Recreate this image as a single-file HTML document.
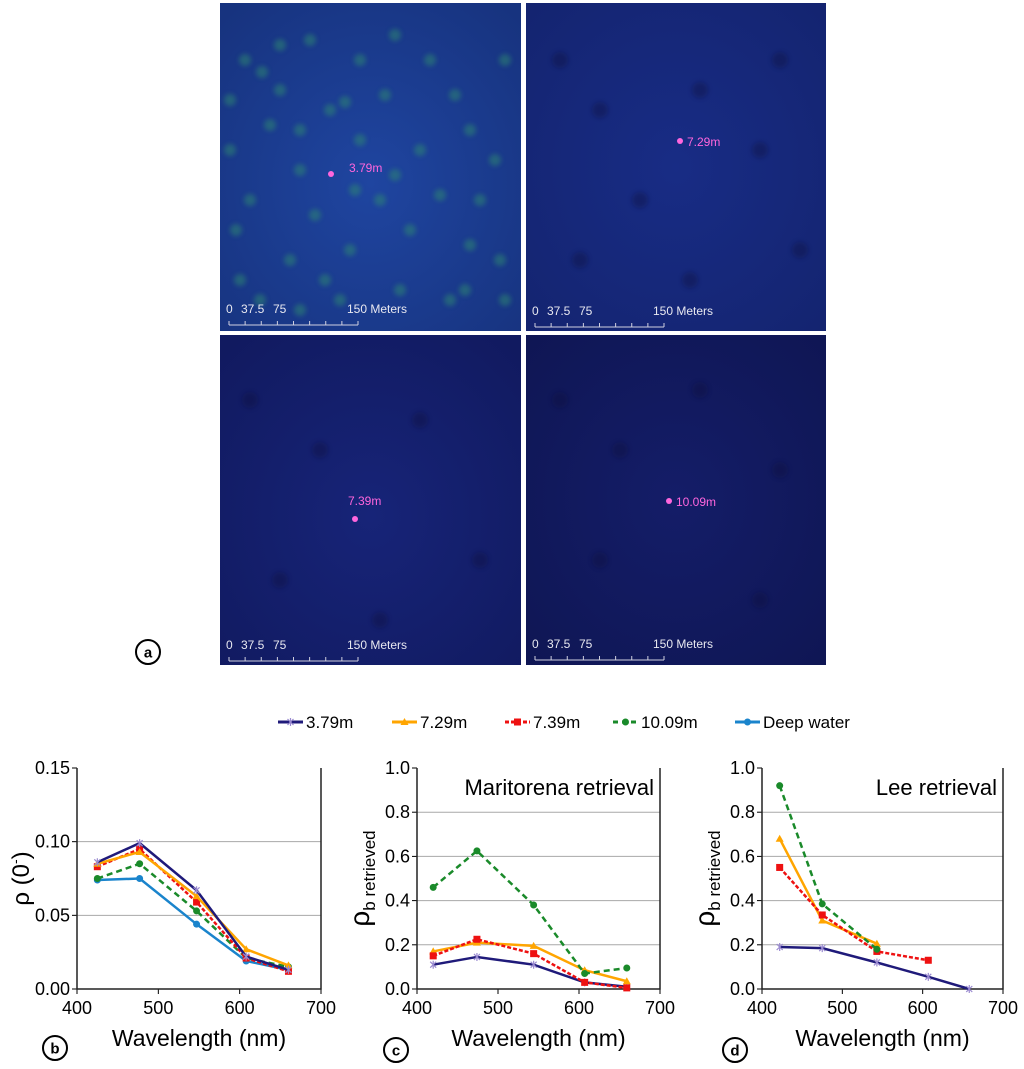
<!DOCTYPE html>
<html><head><meta charset="utf-8"><style>
body{margin:0;background:#fff;width:1024px;height:1069px;overflow:hidden;font-family:"Liberation Sans",sans-serif}
svg{display:block}
</style></head><body>
<svg id="root" width="1024" height="1069" viewBox="0 0 1024 1069" xmlns="http://www.w3.org/2000/svg">
<defs>
<radialGradient id="g1" cx="50%" cy="55%" r="70%"><stop offset="0" stop-color="#1f45a0"/><stop offset="1" stop-color="#17337f"/></radialGradient>
<radialGradient id="g2" cx="50%" cy="50%" r="70%"><stop offset="0" stop-color="#182c85"/><stop offset="1" stop-color="#142470"/></radialGradient>
<radialGradient id="g3" cx="50%" cy="55%" r="70%"><stop offset="0" stop-color="#172478"/><stop offset="1" stop-color="#111a60"/></radialGradient>
<radialGradient id="g4" cx="50%" cy="50%" r="70%"><stop offset="0" stop-color="#141d68"/><stop offset="1" stop-color="#0f1654"/></radialGradient>
<filter id="blur"><feGaussianBlur stdDeviation="2.5"/></filter>
</defs>
<g>
<rect x="220" y="3" width="301" height="328" fill="url(#g1)"/>
<rect x="526" y="3" width="300" height="328" fill="url(#g2)"/>
<rect x="220" y="335" width="301" height="330" fill="url(#g3)"/>
<rect x="526" y="335" width="300" height="330" fill="url(#g4)"/>
<g id="blobs" filter="url(#blur)" opacity="0.5"></g>
<g id="darkblobs" filter="url(#blur)" opacity="0.35"></g>
</g>
<g id="overlay"></g>
<g id="charts"></g>
</svg>
<script>
// ---- data ----
const seriesNames = ["3.79m","7.29m","7.39m","10.09m","Deep water"];
const seriesColors = ["#1f1a7a","#ffa500","#ee1111","#1a8a2a","#1a84cc"];
const wlB = [425,477,547,608,660];
const b379 = [0.086,0.099,0.067,0.022,0.013];
const b729 = [0.085,0.093,0.063,0.027,0.016];
const b739 = [0.083,0.095,0.059,0.021,0.012];
const b1009 = [0.075,0.085,0.053,0.021,0.015];
const bDeep = [0.074,0.075,0.044,0.019,0.013];
const wlC = [420,474,544,607,659];
const c379 = [0.11,0.145,0.11,0.03,0.01];
const c729 = [0.17,0.21,0.195,0.085,0.035];
const c739 = [0.15,0.225,0.16,0.03,0.005];
const c1009 = [0.46,0.625,0.38,0.07,0.095];
const wlD = [422,475,543,607,658];
const d379 = [0.19,0.185,0.12,0.055,0.0];
const d729 = [0.68,0.31,0.205];
const d739 = [0.55,0.335,0.17,0.13];
const d1009 = [0.92,0.385,0.18];
const xTicks = [400,500,600,700];
const yTicksB = ["0.00","0.05","0.10","0.15"];
const yTicksCD = ["0.0","0.2","0.4","0.6","0.8","1.0"];

const NS="http://www.w3.org/2000/svg";
function mk(tag,attrs,parent,text){const e=document.createElementNS(NS,tag);for(const k in attrs)e.setAttribute(k,attrs[k]);if(text!==undefined)e.textContent=text;parent.appendChild(e);return e;}
const charts=document.getElementById('charts');
const overlay=document.getElementById('overlay');

// decorative texture
const blobs=document.getElementById('blobs');
const blobPts=[[245,60],[262,72],[280,90],[330,110],[345,102],[360,140],[300,170],[250,200],[420,150],[470,130],[480,200],[500,260],[290,260],[350,250],[400,290],[260,300],[450,300],[310,40],[430,60],[230,150],[380,200],[340,300],
[236,230],[270,125],[315,215],[395,175],[410,230],[455,95],[495,160],[505,60],[360,60],[385,95],[240,280],[300,310],[470,245],[440,195],[325,280],[505,300],[230,100],[280,45],[395,35],[465,290],[300,130],[355,190]];
blobPts.forEach(p=>{const c=mk('circle',{cx:p[0],cy:p[1],r:6,fill:'#2f8a70'},blobs);

});
const darkblobs=document.getElementById('darkblobs');
const darkPts=[[560,60],[600,110],[640,200],[700,90],[760,150],[800,250],[580,260],[690,280],[780,60],[560,400],[620,450],[700,390],[780,470],[600,560],[760,600],[250,400],[320,450],[420,420],[480,560],[280,580],[380,620]];
darkPts.forEach(p=>{const c=mk('circle',{cx:p[0],cy:p[1],r:8,fill:'#0a0f3a'},darkblobs);

});

// image labels
function imgLabels(x0,y0,dx,dy,lbl,lx,ly){
  const d=mk('circle',{cx:dx,cy:dy,r:3,fill:'#ff66dd'},overlay);
  
  
  const t=mk('text',{x:lx,y:ly,fill:'#ff66dd','font-size':12},overlay,lbl);
  
  
  const g=mk('g',{},overlay);
  
  
  const sx=x0+9, sy=y0;
  mk('text',{x:sx-3,y:sy-8,fill:'#e8e8f0','font-size':12},g,'0');
  mk('text',{x:sx+12,y:sy-8,fill:'#e8e8f0','font-size':12},g,'37.5');
  mk('text',{x:sx+44,y:sy-8,fill:'#e8e8f0','font-size':12},g,'75');
  mk('text',{x:sx+118,y:sy-8,fill:'#e8e8f0','font-size':12},g,'150 Meters');
  mk('line',{x1:sx,y1:sy+4,x2:sx+129,y2:sy+4,stroke:'#d0d0e0','stroke-width':1},g);
  for(let i=0;i<=8;i++){mk('line',{x1:sx+i*129/8,y1:sy,x2:sx+i*129/8,y2:sy+4,stroke:'#d0d0e0','stroke-width':1},g);}
}
imgLabels(220,321,331,174,'3.79m',349,172);
imgLabels(526,323,680,141,'7.29m',687,146);
imgLabels(220,657,355,519,'7.39m',348,505);
imgLabels(526,656,669,501,'10.09m',676,506);

// circled panel letters
function letter(cx,cy,ch){const g=mk('g',{},charts);


mk('circle',{cx:cx,cy:cy,r:12,fill:'#fff',stroke:'#000','stroke-width':2},g);
mk('text',{x:cx,y:cy+5.5,'text-anchor':'middle','font-size':15,'font-weight':'bold'},g,ch);}
letter(148,652,'a');letter(55,1048,'b');letter(396,1050,'c');letter(735,1050,'d');

// legend
const legX=[278,392,505,613,735];
const legend=mk('g',{},charts);


seriesNames.forEach((n,i)=>{
  const g=mk('g',{},legend);
  
  
  mk('line',{x1:legX[i],y1:722,x2:legX[i]+25,y2:722,stroke:seriesColors[i],'stroke-width':3,'stroke-dasharray':i==3?'5,4':(i==2?'4,2':'none')},g);
  marker(g,i,legX[i]+12.5,722);
  mk('text',{x:legX[i]+28,y:728,'font-size':17},g,n);
});

function marker(g,i,x,y){
  const c=seriesColors[i];
  if(i==0){mk('path',{d:`M${x-3},${y-3}L${x+3},${y+3}M${x-3},${y+3}L${x+3},${y-3}M${x},${y-4}L${x},${y+4}`,stroke:'#9a8ad0','stroke-width':1.2},g);}
  else if(i==1){mk('path',{d:`M${x},${y-4}L${x+4},${y+3}L${x-4},${y+3}Z`,fill:c},g);}
  else if(i==2){mk('rect',{x:x-3.5,y:y-3.5,width:7,height:7,fill:c},g);}
  else {mk('circle',{cx:x,cy:y,r:3.5,fill:c},g);}
}

function chart(name,L,R,T,B,ymax,yTicks,series,title,yTitle){
  const g=mk('g',{},charts);
  
  
  const xs=v=>L+(v-400)/300*(R-L);
  const ys=v=>B-v/ymax*(B-T);
  yTicks.forEach((t,k)=>{const v=parseFloat(t);const y=ys(v);
    if(v>0&&v<ymax){const gl=mk('line',{x1:L,y1:y,x2:R,y2:y,stroke:'#a8a8a8','stroke-width':1},g);
      
      }
    mk('line',{x1:L-5,y1:y,x2:L,y2:y,stroke:'#000'},g);
    const tl=mk('text',{x:L-7,y:y+6,'text-anchor':'end','font-size':18},g,t);
    
    });
  xTicks.forEach(v=>{const x=xs(v);mk('line',{x1:x,y1:B,x2:x,y2:B+5,stroke:'#000'},g);
    const tl=mk('text',{x:x,y:B+25,'text-anchor':'middle','font-size':18},g,v);
    
    });
  mk('path',{d:`M${L},${T}L${L},${B}L${R},${B}L${R},${T}`,fill:'none',stroke:'#222','stroke-width':1.5},g);
  series.forEach(s=>{
    const pts=s.y.map((v,k)=>xs(s.x[k])+','+ys(v)).join(' ');
    const pl=mk('polyline',{points:pts,fill:'none',stroke:seriesColors[s.i],'stroke-width':2.5,'stroke-dasharray':s.i==3?'6,4':(s.i==2?'4,2':'none')},g);
    
    
    s.y.forEach((v,k)=>marker(g,s.i,xs(s.x[k]),ys(v)));
  });
  const xt=mk('text',{x:(L+R)/2,y:B+57,'text-anchor':'middle','font-size':23},g,'Wavelength (nm)');
  
  
  if(title){const tt=mk('text',{x:R-6,y:T+27,'text-anchor':'end','font-size':22},g,title);
    
    }
  const yt=mk('text',{transform:`translate(${L-48},${(T+B)/2}) rotate(-90)`,'text-anchor':'middle','font-size':24},g);
  
  
  if(yTitle=='b'){mk('tspan',{},yt,'ρ (0');mk('tspan',{'font-size':14,dy:-9},yt,'-');mk('tspan',{dy:9},yt,')');}
  else{mk('tspan',{'font-size':28},yt,'ρ');mk('tspan',{'font-size':17,dy:6},yt,'b retrieved');}
}
chart('chart-b-reflectance',77,321,768,989,0.15,yTicksB,[
 {i:4,x:wlB,y:bDeep},{i:3,x:wlB,y:b1009},{i:2,x:wlB,y:b739},{i:1,x:wlB,y:b729},{i:0,x:wlB,y:b379}],null,'b');
chart('chart-c-maritorena',417,660,768,989,1.0,yTicksCD,[
 {i:0,x:wlC,y:c379},{i:1,x:wlC,y:c729},{i:2,x:wlC,y:c739},{i:3,x:wlC,y:c1009}],'Maritorena retrieval','c');
chart('chart-d-lee',762,1003,768,989,1.0,yTicksCD,[
 {i:0,x:wlD,y:d379},{i:1,x:wlD,y:d729},{i:2,x:wlD,y:d739},{i:3,x:wlD,y:d1009}],'Lee retrieval','d');
</script>
</body></html>
